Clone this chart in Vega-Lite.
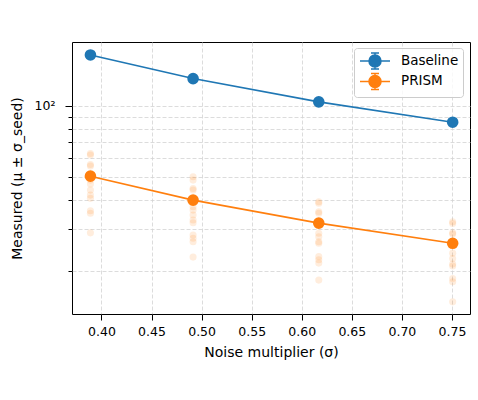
{
  "$schema": "https://vega.github.io/schema/vega-lite/v6.json",
  "width": 398,
  "height": 272,
  "autosize": {"type": "none"},
  "padding": {"left": 72, "top": 42, "right": 8, "bottom": 86},
  "background": "white",
  "config": {
    "font": "DejaVu Sans",
    "view": {"stroke": "black", "strokeWidth": 1},
    "axis": {
      "domain": false,
      "tickColor": "black",
      "labelColor": "black",
      "titleColor": "black",
      "titleFontWeight": "normal",
      "grid": true,
      "gridColor": "#d3d3d3",
      "gridDash": [4, 2],
      "gridWidth": 0.8
    }
  },
  "data": {
    "values": [
      {"method": "Baseline", "kind": "mean", "sigma": 0.389, "value": 164.3},
      {"method": "Baseline", "kind": "mean", "sigma": 0.4915, "value": 130.5},
      {"method": "Baseline", "kind": "mean", "sigma": 0.617, "value": 104},
      {"method": "Baseline", "kind": "mean", "sigma": 0.7507, "value": 85.3},
      {"method": "PRISM", "kind": "mean", "sigma": 0.389, "value": 50.4},
      {"method": "PRISM", "kind": "mean", "sigma": 0.4915, "value": 39.9},
      {"method": "PRISM", "kind": "mean", "sigma": 0.617, "value": 31.9},
      {"method": "PRISM", "kind": "mean", "sigma": 0.7507, "value": 26.2},
      {"method": "PRISM", "kind": "seed", "sigma": 0.389, "value": 62.9},
      {"method": "PRISM", "kind": "seed", "sigma": 0.389, "value": 61.9},
      {"method": "PRISM", "kind": "seed", "sigma": 0.389, "value": 56.5},
      {"method": "PRISM", "kind": "seed", "sigma": 0.389, "value": 55.6},
      {"method": "PRISM", "kind": "seed", "sigma": 0.389, "value": 48.5},
      {"method": "PRISM", "kind": "seed", "sigma": 0.389, "value": 46.7},
      {"method": "PRISM", "kind": "seed", "sigma": 0.389, "value": 44.0},
      {"method": "PRISM", "kind": "seed", "sigma": 0.389, "value": 41.9},
      {"method": "PRISM", "kind": "seed", "sigma": 0.389, "value": 40.6},
      {"method": "PRISM", "kind": "seed", "sigma": 0.389, "value": 36.0},
      {"method": "PRISM", "kind": "seed", "sigma": 0.389, "value": 35.1},
      {"method": "PRISM", "kind": "seed", "sigma": 0.389, "value": 29.0},
      {"method": "PRISM", "kind": "seed", "sigma": 0.4915, "value": 50.1},
      {"method": "PRISM", "kind": "seed", "sigma": 0.4915, "value": 48.5},
      {"method": "PRISM", "kind": "seed", "sigma": 0.4915, "value": 44.7},
      {"method": "PRISM", "kind": "seed", "sigma": 0.4915, "value": 44.0},
      {"method": "PRISM", "kind": "seed", "sigma": 0.4915, "value": 37.4},
      {"method": "PRISM", "kind": "seed", "sigma": 0.4915, "value": 36.2},
      {"method": "PRISM", "kind": "seed", "sigma": 0.4915, "value": 34.5},
      {"method": "PRISM", "kind": "seed", "sigma": 0.4915, "value": 32.9},
      {"method": "PRISM", "kind": "seed", "sigma": 0.4915, "value": 32.0},
      {"method": "PRISM", "kind": "seed", "sigma": 0.4915, "value": 28.4},
      {"method": "PRISM", "kind": "seed", "sigma": 0.4915, "value": 27.5},
      {"method": "PRISM", "kind": "seed", "sigma": 0.4915, "value": 26.6},
      {"method": "PRISM", "kind": "seed", "sigma": 0.4915, "value": 22.9},
      {"method": "PRISM", "kind": "seed", "sigma": 0.617, "value": 39.3},
      {"method": "PRISM", "kind": "seed", "sigma": 0.617, "value": 38.7},
      {"method": "PRISM", "kind": "seed", "sigma": 0.617, "value": 35.6},
      {"method": "PRISM", "kind": "seed", "sigma": 0.617, "value": 35.1},
      {"method": "PRISM", "kind": "seed", "sigma": 0.617, "value": 28.9},
      {"method": "PRISM", "kind": "seed", "sigma": 0.617, "value": 27.9},
      {"method": "PRISM", "kind": "seed", "sigma": 0.617, "value": 26.6},
      {"method": "PRISM", "kind": "seed", "sigma": 0.617, "value": 26.2},
      {"method": "PRISM", "kind": "seed", "sigma": 0.617, "value": 23.0},
      {"method": "PRISM", "kind": "seed", "sigma": 0.617, "value": 22.3},
      {"method": "PRISM", "kind": "seed", "sigma": 0.617, "value": 21.6},
      {"method": "PRISM", "kind": "seed", "sigma": 0.617, "value": 18.3},
      {"method": "PRISM", "kind": "seed", "sigma": 0.7507, "value": 32.3},
      {"method": "PRISM", "kind": "seed", "sigma": 0.7507, "value": 31.8},
      {"method": "PRISM", "kind": "seed", "sigma": 0.7507, "value": 29.0},
      {"method": "PRISM", "kind": "seed", "sigma": 0.7507, "value": 28.7},
      {"method": "PRISM", "kind": "seed", "sigma": 0.7507, "value": 23.8},
      {"method": "PRISM", "kind": "seed", "sigma": 0.7507, "value": 22.6},
      {"method": "PRISM", "kind": "seed", "sigma": 0.7507, "value": 21.4},
      {"method": "PRISM", "kind": "seed", "sigma": 0.7507, "value": 21.0},
      {"method": "PRISM", "kind": "seed", "sigma": 0.7507, "value": 18.6},
      {"method": "PRISM", "kind": "seed", "sigma": 0.7507, "value": 18.0},
      {"method": "PRISM", "kind": "seed", "sigma": 0.7507, "value": 14.8}
    ]
  },
  "encoding": {
    "x": {
      "field": "sigma",
      "type": "quantitative",
      "scale": {"domain": [0.3706, 0.768], "nice": false, "zero": false},
      "axis": {
        "title": "Noise multiplier (σ)",
        "values": [0.4, 0.45, 0.5, 0.55, 0.6, 0.65, 0.7, 0.75],
        "format": ".2f",
        "tickSize": 6,
        "labelPadding": 5,
        "labelFontSize": 12.5,
        "titleFontSize": 14,
        "titlePadding": 8
      }
    },
    "y": {
      "field": "value",
      "type": "quantitative",
      "scale": {"type": "log", "domain": [13.15, 186.4], "nice": false, "zero": false},
      "axis": {
        "title": "Measured (μ ± σ_seed)",
        "values": [20, 30, 40, 50, 60, 70, 80, 90, 100],
        "labelExpr": "datum.value === 100 ? '10²' : ''",
        "tickSize": {"condition": {"test": "datum.value === 100", "value": 7}, "value": 4},
        "labelPadding": 10,
        "labelFontSize": 12.5,
        "titleFontSize": 14,
        "titlePadding": 10
      }
    },
    "color": {
      "field": "method",
      "type": "nominal",
      "scale": {"domain": ["Baseline", "PRISM"], "range": ["#1f77b4", "#ff7f0e"]},
      "legend": {
        "title": null,
        "orient": "none",
        "legendX": 282,
        "legendY": 6,
        "symbolType": "M-1.875,0H1.875M0,-1V1M-0.5,-1H0.5M-0.5,1H0.5M-0.75,0A0.75,0.75,0,1,0,0.75,0A0.75,0.75,0,1,0,-0.75,0Z",
        "symbolSize": 256,
        "symbolStrokeWidth": 1.5,
        "symbolOffset": 8,
        "labelFontSize": 13.5,
        "labelOffset": 17,
        "rowPadding": -1.6,
        "padding": 4,
        "fillColor": "rgba(255,255,255,0.8)",
        "strokeColor": "#cccccc",
        "cornerRadius": 3,
        "encode": {
          "symbols": {
            "update": {
              "stroke": {"scale": "color", "field": "value"},
              "fill": {"scale": "color", "field": "value"},
              "opacity": {"value": 1}
            }
          }
        }
      }
    }
  },
  "layer": [
    {
      "transform": [{"filter": "datum.kind === 'seed'"}],
      "mark": {"type": "circle", "opacity": 0.14, "size": 50}
    },
    {
      "transform": [{"filter": "datum.kind === 'mean'"}],
      "mark": {"type": "line", "strokeWidth": 1.6}
    },
    {
      "transform": [{"filter": "datum.kind === 'mean'"}],
      "mark": {"type": "circle", "opacity": 1, "size": 135}
    }
  ]
}
